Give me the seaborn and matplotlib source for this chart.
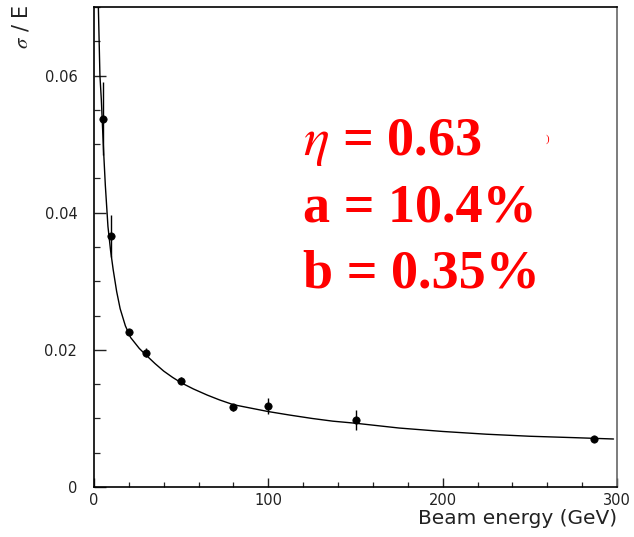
import numpy as np
import pandas as pd
import seaborn as sns
import matplotlib.pyplot as plt
from matplotlib.ticker import MultipleLocator, FuncFormatter

# measured resolution points
energy = [5, 10, 20, 30, 50, 80, 100, 150, 287]
sigma_e = [0.0537, 0.0366, 0.0226, 0.0196, 0.0155, 0.0116, 0.0118, 0.0098, 0.0070]
sigma_err = [0.0053, 0.0030, 0.0003, 0.0007, 0.0005, 0.0005, 0.0012, 0.0015, 0.0002]

# fitted curve
fit_e = [2.5, 3.4, 4.2, 4.8, 5.5, 6.5, 8.0, 9.5, 11, 13, 15, 18, 21, 26, 30, 35,
         40, 45, 50, 57, 65, 72, 80, 90, 100, 112, 125, 137, 150, 175, 200,
         225, 250, 275, 298]
fit_y = [0.0700, 0.0600, 0.0565, 0.0530, 0.0490, 0.0440, 0.0380, 0.0345, 0.0317,
         0.0285, 0.0260, 0.0235, 0.0218, 0.0202, 0.0192, 0.0180, 0.0169, 0.0160,
         0.0152, 0.0143, 0.0134, 0.0127, 0.0120, 0.0115, 0.0110, 0.0105, 0.0100,
         0.0096, 0.0093, 0.0086, 0.0081, 0.0077, 0.0074, 0.0072, 0.0070]

fit_labels = [r'$\eta$ = 0.63', 'a = 10.4%', 'b = 0.35%']

points = pd.DataFrame({'E': energy, 'res': sigma_e, 'err': sigma_err})
fit = pd.DataFrame({'E': fit_e, 'res': fit_y})

sns.set_theme(style='ticks')
plt.rcParams['mathtext.fontset'] = 'stix'

fig = plt.figure(figsize=(6.34, 5.37), dpi=100)
ax = fig.add_axes([94 / 634, 1 - 487 / 537, 523 / 634, 480 / 537])

# fit line
sns.lineplot(data=fit, x='E', y='res', ax=ax, color='black', linewidth=1.0,
             sort=False, estimator=None)
# error bars + points
ax.errorbar(points['E'], points['res'], yerr=points['err'], fmt='none',
            ecolor='black', elinewidth=1.0, capsize=0)
sns.scatterplot(data=points, x='E', y='res', ax=ax, color='black', s=28,
                edgecolor='black', linewidth=0.5, zorder=3)

ax.set_xlim(0, 300)
ax.set_ylim(0, 0.07)
ax.xaxis.set_major_locator(MultipleLocator(100))
ax.xaxis.set_minor_locator(MultipleLocator(20))
ax.yaxis.set_major_locator(MultipleLocator(0.02))
ax.yaxis.set_minor_locator(MultipleLocator(0.005))
ax.xaxis.set_major_formatter(FuncFormatter(lambda v, p: f'{v:.0f}'))
ax.yaxis.set_major_formatter(FuncFormatter(lambda v, p: '0' if abs(v) < 1e-9 else f'{v:.2f}'))
ax.tick_params(axis='x', which='major', direction='in', length=6.5, width=1.0,
               pad=4, labelsize=10.5, colors='#222222')
ax.tick_params(axis='x', which='minor', direction='in', length=3.6, width=0.9)
ax.tick_params(axis='y', which='major', direction='in', length=8.6, width=1.0,
               pad=12, labelsize=10.5, colors='#222222')
ax.tick_params(axis='y', which='minor', direction='in', length=4.3, width=0.9)
ax.set_xlabel('')
ax.set_ylabel('')

for side in ['left', 'bottom', 'top']:
    ax.spines[side].set_linewidth(1.2)
    ax.spines[side].set_color('black')
ax.spines['right'].set_linewidth(1.2)
ax.spines['right'].set_color('#666666')

fig.text(617 / 634, 1 - 524 / 537, 'Beam energy (GeV)', ha='right',
         va='baseline', fontsize=14.5, color='#222222')
fig.text(21 / 634, 1 - 4 / 537, r'$\sigma$ / E', rotation=90, ha='center',
         va='top', fontsize=15, color='#222222', family='DejaVu Sans')

# fit parameters in red
baselines = [155, 221, 287]
for lab, yb in zip(fit_labels, baselines):
    fig.text(303 / 634, 1 - yb / 537, lab, ha='left', va='baseline',
             fontsize=39, color='red', family='Liberation Serif',
             fontweight='bold')
fig.text(548 / 634, 1 - 142 / 537, ')', ha='center', va='baseline',
         fontsize=8, color='red', family='Liberation Serif')

fig.savefig('out.png', dpi=100)
